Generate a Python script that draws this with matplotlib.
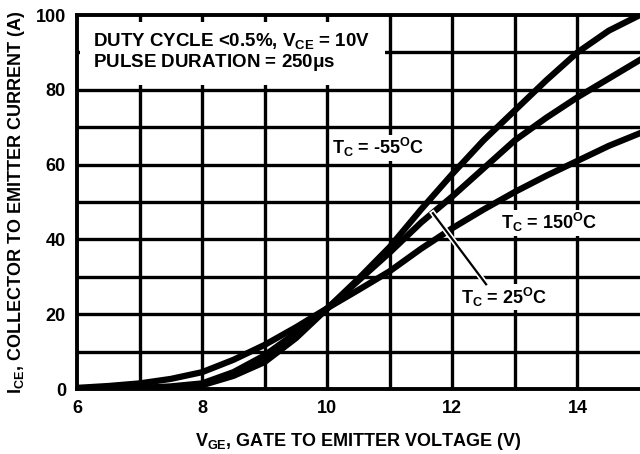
import matplotlib
matplotlib.use("Agg")
import matplotlib.pyplot as plt
from matplotlib.patches import Rectangle
import matplotlib.patheffects as pe

# Data
vge = [6, 6.5, 7, 7.5, 8, 8.5, 9, 9.5, 10, 10.5, 11, 11.5, 12, 12.5, 13, 13.5, 14, 14.5, 15]
ice_m55 = [0, 0.1, 0.2, 0.5, 1.0, 3.5, 7.2, 13.6, 21.5, 29.5, 38.0, 48.0, 57.5, 66.5, 74.5, 82.5, 90.0, 95.8, 100]
ice_25 = [0, 0.1, 0.3, 0.7, 1.5, 4.5, 9.0, 15.0, 21.5, 29.0, 36.5, 44.5, 51.5, 59.0, 66.5, 72.5, 78.0, 83.0, 88.0]
ice_150 = [0.3, 0.8, 1.5, 2.7, 4.5, 7.8, 11.8, 16.5, 21.6, 26.5, 31.5, 37.5, 43.0, 48.0, 52.7, 57.0, 61.0, 65.0, 68.4]

xticks = [6, 8, 10, 12, 14]
yticks = [0, 20, 40, 60, 80, 100]

plt.rcParams['font.family'] = ['Liberation Sans', 'DejaVu Sans']
plt.rcParams['mathtext.fontset'] = 'custom'
plt.rcParams['mathtext.rm'] = 'Liberation Sans:bold'
plt.rcParams['mathtext.it'] = 'Liberation Sans:bold'
plt.rcParams['mathtext.bf'] = 'Liberation Sans:bold'

FS = 13

fig = plt.figure(figsize=(6.4, 4.54), dpi=100)
ax = fig.add_axes([77/640, 1-389/454, 1-77/640, (389-15)/454])

ax.set_xlim(6, 15)
ax.set_ylim(0, 100)

# grid every 1 V and 10 A
for gx in range(7, 15):
    ax.axvline(gx, color='black', lw=2.4, zorder=1)
for gy in range(10, 100, 10):
    ax.axhline(gy, color='black', lw=2.4, zorder=1)

# white box behind header text
ax.add_patch(Rectangle((6.05, 81.3), 4.88, 16.8, facecolor='white', edgecolor='none', zorder=2))

for y in (ice_m55, ice_25, ice_150):
    ax.plot(vge, y, color='black', lw=4.5, zorder=3, solid_joinstyle='round')

ax.set_xticks(xticks)
ax.set_yticks(yticks)
ax.tick_params(length=0, labelsize=FS, pad=8)
for lab in ax.get_xticklabels() + ax.get_yticklabels():
    lab.set_fontweight('bold')

for s in ('left', 'bottom', 'top'):
    ax.spines[s].set_linewidth(2.8)
ax.spines['right'].set_visible(False)

ax.text(6.25, 93.0, r"DUTY CYCLE <0.5%, V$_\mathregular{CE}$ = 10V", fontsize=13.5, fontweight='bold', va='center', zorder=4)
ax.text(6.25, 87.2, r"PULSE DURATION = 250$\mathregular{\mu}$s", fontsize=13.5, fontweight='bold', va='center', zorder=4)

box = dict(facecolor='white', edgecolor='none', pad=1)
ax.text(10.08, 64.5, r"T$_\mathregular{C}$ = -55$^\mathregular{O}$C", fontsize=FS, fontweight='bold', va='center', zorder=4, bbox=box)
ax.text(12.77, 44.5, r"T$_\mathregular{C}$ = 150$^\mathregular{O}$C", fontsize=FS, fontweight='bold', va='center', zorder=4, bbox=box)
ax.text(12.14, 24.5, r"T$_\mathregular{C}$ = 25$^\mathregular{O}$C", fontsize=FS, fontweight='bold', va='center', zorder=4, bbox=box)
ax.plot([11.69, 12.54], [47, 28], color='black', lw=1.6, zorder=4,
        path_effects=[pe.Stroke(linewidth=4, foreground='white'), pe.Normal()])

ax.set_xlabel(r"V$_\mathregular{GE}$, GATE TO EMITTER VOLTAGE (V)", fontsize=FS, fontweight='bold', labelpad=10)
ax.set_ylabel(r"I$_\mathregular{CE}$, COLLECTOR TO EMITTER CURRENT (A)", fontsize=FS, fontweight='bold', labelpad=6)

fig.savefig("out.png", dpi=100)
